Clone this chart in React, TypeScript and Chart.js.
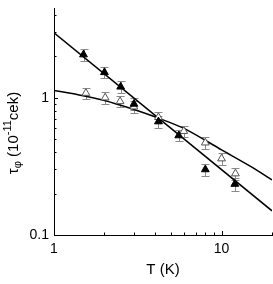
import { useEffect, useRef } from 'react';
import { Chart, registerables } from 'chart.js';

Chart.register(...registerables);

// Filled triangles
const filledT = [1.5, 2.0, 2.5, 3.0, 4.2, 5.55, 8.0, 12.0];
const filledTau = [2.06, 1.53, 1.2, 0.9, 0.67, 0.53, 0.3, 0.235];
const filledErr = [0.2, 0.15, 0.12, 0.09, 0.065, 0.05, 0.03, 0.025];

// Open triangles
const openT = [1.55, 2.02, 2.48, 3.0, 4.2, 5.95, 8.0, 10.0, 12.1];
const openTau = [1.08, 1.0, 0.94, 0.86, 0.72, 0.57, 0.47, 0.36, 0.28];
const openErr = [0.1, 0.1, 0.09, 0.085, 0.07, 0.055, 0.045, 0.035, 0.028];

// Steep straight line
const lineT = [1, 20];
const lineTau = [2.97, 0.15];

// Curved line
const curveT = [1, 1.41, 2, 2.85, 4.14, 6.08, 10, 14.9, 20];
const curveTau = [1.13, 1.047, 0.955, 0.838, 0.715, 0.591, 0.417, 0.316, 0.252];

// Axes
const xMin = 1;
const xMax = 20;
const yMin = 0.1;
const yMax = 4.5;
const xTickValues = [1, 2, 3, 4, 5, 6, 7, 8, 9, 10, 20];
const xLabelValues = [1, 10];
const yTickValues = [0.1, 0.2, 0.3, 0.4, 0.5, 0.6, 0.7, 0.8, 0.9, 1, 2, 3, 4];
const yLabelValues = [0.1, 1];

const xTitle = 'T (K)';
const yTitleParts = [
  { text: 'τ', kind: 'normal' },
  { text: 'φ', kind: 'sub' },
  { text: ' (10', kind: 'normal' },
  { text: '-11', kind: 'sup' },
  { text: 'cek)', kind: 'normal' },
];

const FONT = '"Liberation Sans", Arial, Helvetica, sans-serif';

// Stretch the plot area to 1px from the right edge of the canvas
const areaPlugin = {
  id: 'areaFix',
  afterLayout(chart: any) {
    const xs = chart.scales.x;
    const right = chart.width - 1;
    xs.right = right;
    xs.width = right - xs.left;
    xs.configure();
    chart.chartArea.right = right;
    chart.chartArea.width = right - chart.chartArea.left;
  },
};

const errorBarPlugin = {
  id: 'errorBars',
  beforeDatasetsDraw(chart: any) {
    const { ctx } = chart;
    const xs = chart.scales.x;
    const ys = chart.scales.y;
    ctx.save();
    ctx.strokeStyle = '#8a8a8a';
    ctx.lineWidth = 1;
    chart.data.datasets.forEach((ds: any) => {
      if (!ds.errors) return;
      ds.data.forEach((p: any, i: number) => {
        const e = ds.errors[i];
        const px = Math.round(xs.getPixelForValue(p.x)) + 0.5;
        const yTop = Math.round(ys.getPixelForValue(p.y + e)) + 0.5;
        const yBot = Math.round(ys.getPixelForValue(p.y - e)) + 0.5;
        ctx.beginPath();
        ctx.moveTo(px, yTop);
        ctx.lineTo(px, yBot);
        ctx.moveTo(px - 4, yTop);
        ctx.lineTo(px + 4, yTop);
        ctx.moveTo(px - 4, yBot);
        ctx.lineTo(px + 4, yBot);
        ctx.stroke();
      });
    });
    ctx.restore();
  },
};

const decorPlugin = {
  id: 'decor',
  afterDraw(chart: any) {
    const { ctx, chartArea } = chart;
    const xs = chart.scales.x;
    const ys = chart.scales.y;
    ctx.save();
    ctx.strokeStyle = '#000';
    ctx.lineWidth = 1;
    ctx.beginPath();
    xTickValues.forEach((v) => {
      if (v === xMin) return;
      const px = Math.round(xs.getPixelForValue(v)) + 0.5;
      const len = xLabelValues.includes(v) ? 4 : 2.5;
      ctx.moveTo(px, chartArea.bottom);
      ctx.lineTo(px, chartArea.bottom - len);
    });
    yTickValues.forEach((v) => {
      if (v === yMin) return;
      const py = Math.round(ys.getPixelForValue(v)) + 0.5;
      const len = yLabelValues.includes(v) ? 4 : 2.5;
      ctx.moveTo(chartArea.left, py);
      ctx.lineTo(chartArea.left + len, py);
    });
    ctx.stroke();

    // Y title with subscript / superscript
    const big = `15px ${FONT}`;
    const small = `11px ${FONT}`;
    let total = 0;
    yTitleParts.forEach((p) => {
      ctx.font = p.kind === 'normal' ? big : small;
      total += ctx.measureText(p.text).width;
    });
    const centerY = 133;
    ctx.translate(18, centerY + total / 2);
    ctx.rotate(-Math.PI / 2);
    ctx.fillStyle = '#000';
    ctx.textBaseline = 'alphabetic';
    ctx.textAlign = 'left';
    let cx = 0;
    yTitleParts.forEach((p) => {
      ctx.font = p.kind === 'normal' ? big : small;
      const dy = p.kind === 'sub' ? 3 : p.kind === 'sup' ? -7 : 0;
      ctx.fillText(p.text, cx, dy);
      cx += ctx.measureText(p.text).width;
    });
    ctx.restore();
  },
};

export default function App() {
  const ref = useRef<HTMLCanvasElement | null>(null);

  useEffect(() => {
    document.body.style.margin = '0';
    const canvas = ref.current;
    if (!canvas) return;
    const chart = new Chart(canvas, {
      type: 'scatter',
      data: {
        datasets: [
          {
            label: 'filled',
            data: filledT.map((x, i) => ({ x, y: filledTau[i] })),
            errors: filledErr,
            pointStyle: 'triangle',
            pointRadius: 4.5,
            backgroundColor: '#000',
            borderColor: '#000',
            borderWidth: 1,
            showLine: false,
          } as any,
          {
            label: 'open',
            data: openT.map((x, i) => ({ x, y: openTau[i] })),
            errors: openErr,
            pointStyle: 'triangle',
            pointRadius: 4.5,
            backgroundColor: '#fff',
            borderColor: '#555',
            borderWidth: 1,
            showLine: false,
          } as any,
          {
            label: 'line',
            data: lineT.map((x, i) => ({ x, y: lineTau[i] })),
            showLine: true,
            pointRadius: 0,
            borderColor: '#000',
            borderWidth: 1.5,
            fill: false,
          } as any,
          {
            label: 'curve',
            data: curveT.map((x, i) => ({ x, y: curveTau[i] })),
            showLine: true,
            pointRadius: 0,
            borderColor: '#000',
            borderWidth: 1.5,
            tension: 0.3,
            fill: false,
          } as any,
        ],
      },
      options: {
        animation: false,
        responsive: false,
        devicePixelRatio: 1,
        layout: { padding: { top: 8, right: 1, left: 0, bottom: 0 } },
        plugins: {
          legend: { display: false },
          tooltip: { enabled: false },
        },
        scales: {
          x: {
            type: 'logarithmic',
            min: xMin,
            max: xMax,
            position: 'bottom',
            grid: { display: false, drawTicks: true, tickLength: 6, tickColor: 'rgba(0,0,0,0)' },
            border: { display: true, color: '#000', width: 1 },
            afterBuildTicks: (s: any) => {
              s.ticks = xTickValues.map((v) => ({ value: v }));
            },
            afterFit: (s: any) => {
              s.height = 49;
              s.paddingLeft = 0;
              s.paddingRight = 0;
            },
            ticks: {
              autoSkip: false,
              maxRotation: 0,
              padding: 0,
              color: '#000',
              font: { family: FONT, size: 14 },
              callback: (v: any) => (xLabelValues.includes(Number(v)) ? String(v) : ''),
            },
            title: {
              display: true,
              text: xTitle,
              color: '#000',
              font: { family: FONT, size: 15 },
              padding: { top: 0, bottom: 5 },
            },
          },
          y: {
            type: 'logarithmic',
            min: yMin,
            max: yMax,
            position: 'left',
            grid: { display: false, drawTicks: false },
            border: { display: true, color: '#000', width: 1 },
            afterBuildTicks: (s: any) => {
              s.ticks = yTickValues.map((v) => ({ value: v }));
            },
            afterFit: (s: any) => {
              s.width = 54;
              s.paddingTop = 0;
              s.paddingBottom = 0;
            },
            ticks: {
              autoSkip: false,
              padding: 5,
              color: '#000',
              font: { family: FONT, size: 14 },
              callback: (v: any) => (yLabelValues.includes(Number(v)) ? String(v) : ''),
            },
          },
        },
      } as any,
      plugins: [areaPlugin, errorBarPlugin, decorPlugin],
    });
    return () => chart.destroy();
  }, []);

  return (
    <canvas
      ref={ref}
      width={273}
      height={284}
      style={{ display: 'block', width: 273, height: 284 }}
    />
  );
}
